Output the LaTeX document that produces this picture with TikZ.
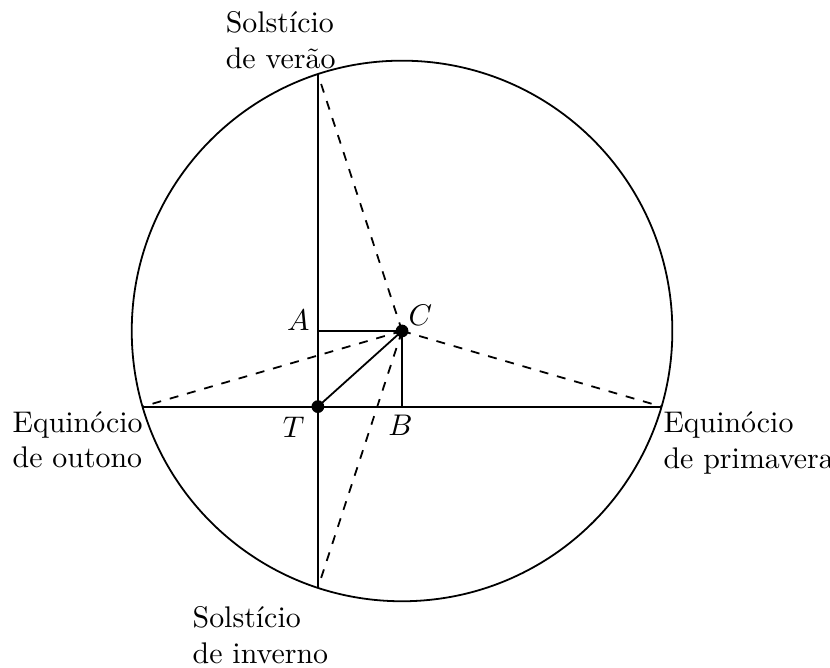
\documentclass[tikz,border=0pt]{standalone}
\usepackage{tikz}
\begin{document}
\begin{tikzpicture}[
  linha/.style={line width=0.6pt},
  tracejada/.style={line width=0.6pt,dashed},
  rotulo/.style={align=left,inner sep=0pt,anchor=west}]
% Parâmetros
\def\R{3.18}
\def\tx{-0.99}
\def\ty{-0.89}

\useasboundingbox (-4.73,-3.965) rectangle (5.035,3.894);

% Centro, Terra e projeções
\coordinate (C) at (0,0);
\coordinate (T) at (\tx,\ty);
\coordinate (A) at (\tx,0);
\coordinate (B) at (0,\ty);

% Intersecções com a circunferência
\pgfmathsetmacro{\dx}{sqrt(\R*\R-\ty*\ty)}
\pgfmathsetmacro{\dy}{sqrt(\R*\R-\tx*\tx)}
\coordinate (O) at (-\dx,\ty);
\coordinate (P) at (\dx,\ty);
\coordinate (V) at (\tx,\dy);
\coordinate (I) at (\tx,-\dy);

% Circunferência
\draw[linha] (C) circle (\R);

% Eixos
\draw[linha] (O) -- (P);
\draw[linha] (V) -- (I);

% Linhas tracejadas
\foreach \p in {O,P,V,I}
  \draw[tracejada] (C) -- (\p);

% Projeções
\draw[linha] (A) -- (C) -- (B);
\draw[linha,->] (T) -- (C);

% Pontos
\fill (T) circle (0.075);
\fill (C) circle (0.075);

% Rótulos
\node[anchor=base east,inner sep=0pt,xshift=-0.09cm] (lblA) at (A) {$A$};
\node[anchor=base west,inner sep=0pt,xshift=0.07cm,yshift=0.07cm] (lblC) at (C) {$C$};
\node[anchor=north east,inner sep=0pt,xshift=-0.15cm,yshift=-0.12cm] (lblT) at (T) {$T$};
\node[anchor=north,inner sep=0pt,xshift=-0.02cm,yshift=-0.09cm] (lblB) at (B) {$B$};

\node[rotulo] (verao) at (-2.08,3.42) {Solstício\\de verão};
\node[rotulo] (outono) at (-4.588,-1.28) {Equinócio\\de outono};
\node[rotulo] (primavera) at (3.07,-1.32) {Equinócio\\de primavera};
\node[rotulo] (inverno) at (-2.47,-3.576) {Solstício\\de inverno};
\end{tikzpicture}
\end{document}
